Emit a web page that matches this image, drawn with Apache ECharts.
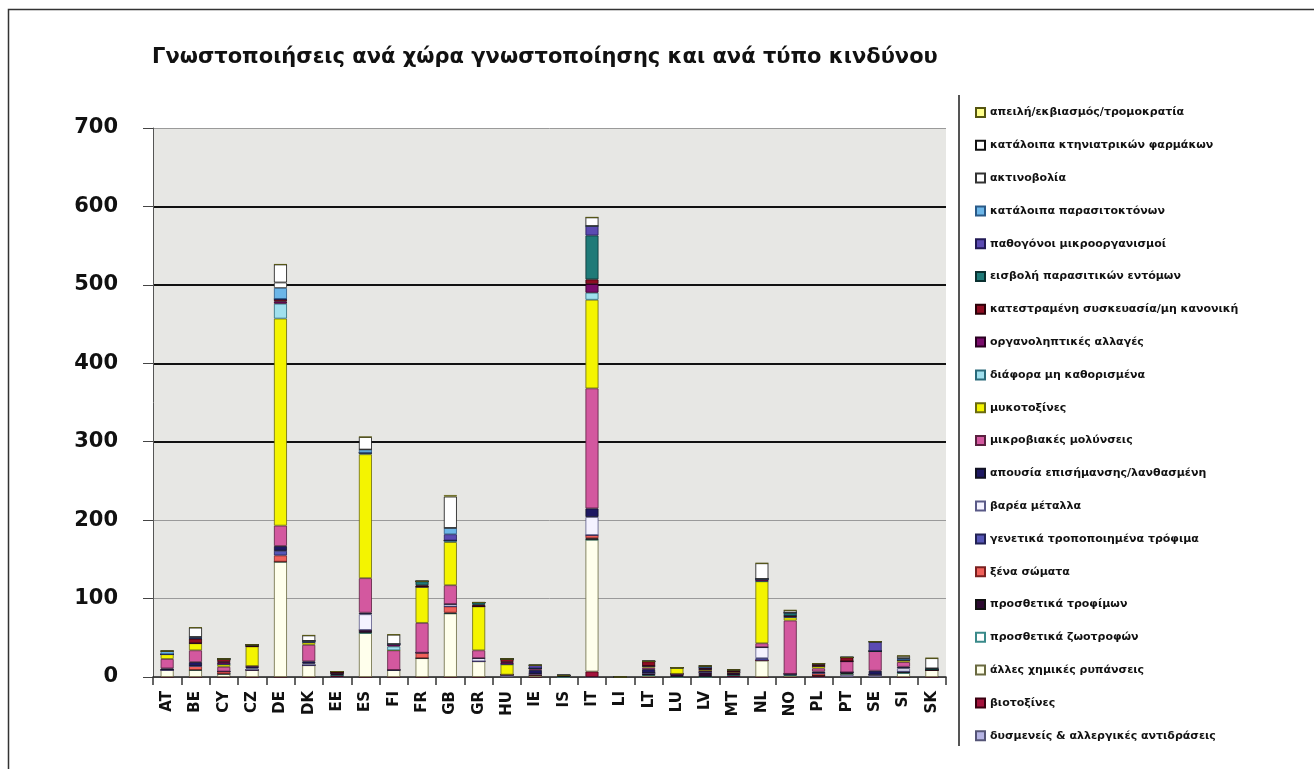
<!DOCTYPE html>
<html>
<head>
<meta charset="utf-8">
<script src="https://cdn.jsdelivr.net/npm/echarts@6/dist/echarts.min.js"></script>
<style>
html,body{margin:0;padding:0;background:#fff;}
#chart{width:1314px;height:769px;}
</style>
</head>
<body>
<div id="chart"></div>
<script>
const titleText = 'Γνωστοποιήσεις ανά χώρα γνωστοποίησης και ανά τύπο κινδύνου';
const countries = ['AT','BE','CY','CZ','DE','DK','EE','ES','FI','FR','GB','GR','HU','IE','IS','IT','LI','LT','LU','LV','MT','NL','NO','PL','PT','SE','SI','SK'];
const yTicks = [0,100,200,300,400,500,600,700];

// series listed bottom of stack -> top of stack
const seriesNames = [
  'δυσμενείς & αλλεργικές αντιδράσεις',
  'βιοτοξίνες',
  'άλλες χημικές ρυπάνσεις',
  'προσθετικά ζωοτροφών',
  'προσθετικά τροφίμων',
  'ξένα σώματα',
  'γενετικά τροποποιημένα τρόφιμα',
  'βαρέα μέταλλα',
  'απουσία επισήμανσης/λανθασμένη',
  'μικροβιακές μολύνσεις',
  'μυκοτοξίνες',
  'διάφορα μη καθορισμένα',
  'οργανοληπτικές αλλαγές',
  'κατεστραμένη συσκευασία/μη κανονική',
  'εισβολή παρασιτικών εντόμων',
  'παθογόνοι μικροοργανισμοί',
  'κατάλοιπα παρασιτοκτόνων',
  'ακτινοβολία',
  'κατάλοιπα κτηνιατρικών φαρμάκων',
  'απειλή/εκβιασμός/τρομοκρατία'
];

//                  AT BE CY CZ  DE DK EE  ES FI FR  GB GR HU IE IS  IT LI LT LU LV MT  NL NO PL PT SE SI SK
const adverse     = [0, 0, 0, 0,  0, 0, 0,  0, 0, 0,  0, 0, 3, 0, 0,  0, 0, 0, 0, 0, 0,  0, 0, 0, 3, 3, 0, 0];
const biotoxins   = [0, 0, 0, 0,  0, 0, 2,  0, 0, 0,  0, 0, 0, 0, 0,  7, 0, 0, 0, 0, 2,  0, 0, 2, 0, 0, 0, 0];
const otherChem   = [9, 9, 4, 9,147,15, 0, 56, 9,24, 81,20, 0, 2, 0,168, 0, 2, 0, 0, 0, 21, 2, 0, 1, 0, 5, 9];
const feedAdd     = [0, 0, 0, 0,  0, 0, 0,  0, 0, 0,  0, 0, 0, 0, 0,  0, 0, 0, 0, 0, 0,  0, 0, 0, 0, 0, 0, 0];
const foodAdd     = [0, 0, 0, 0,  0, 0, 3,  4, 0, 0,  1, 0, 0, 0, 2,  2, 0, 3, 4, 6, 4,  0, 2, 0, 2, 0, 2, 0];
const foreign     = [0, 5, 3, 0,  8, 0, 0,  0, 0, 7,  8, 0, 0, 2, 0,  4, 0, 0, 0, 0, 0,  0, 0, 3, 0, 0, 0, 0];
const gmo         = [0, 0, 0, 0,  6, 0, 0,  0, 0, 0,  0, 0, 0, 0, 0,  0, 0, 0, 0, 0, 0,  3, 0, 0, 0, 0, 0, 0];
const heavyMet    = [0, 0, 0, 2,  0, 2, 0, 20, 0, 0,  3, 4, 0, 0, 0, 23, 0, 0, 0, 0, 0, 14, 0, 0, 0, 0, 4, 0];
const labelling   = [2, 5, 0, 3,  6, 3, 0,  2, 0, 0,  0, 0, 0, 5, 0, 11, 0, 5, 0, 2, 0,  0, 0, 2, 0, 5, 2, 0];
const microbial   = [12,15,6, 0, 26,21, 0, 44,25,38, 24,10, 0, 2, 0,153, 0, 2, 0, 0, 0,  5,68, 4,14,25, 6, 0];
const mycotoxins  = [6, 9, 3,25,264, 3, 0,158, 0,46, 55,56,13, 0, 0,113, 0, 2, 8, 2, 1, 79, 4, 3, 0, 0, 3, 0];
const various     = [0, 0, 0, 0, 19, 0, 0,  2, 5, 0,  2, 0, 0, 0, 0,  9, 0, 0, 0, 0, 0,  0, 0, 0, 0, 0, 0, 0];
const organolept  = [0, 0, 3, 0,  3, 2, 0,  0, 3, 0,  0, 0, 3, 0, 0, 11, 0, 0, 0, 0, 0,  3, 2, 0, 0, 0, 0, 0];
const packaging   = [0, 6, 4, 2,  3, 0, 2,  0, 0, 2,  0, 2, 4, 0, 0,  6, 0, 6, 0, 2, 2,  0, 0, 3, 5, 0, 0, 0];
const insects     = [0, 0, 0, 0,  0, 0, 0,  0, 0, 5,  0, 3, 0, 0, 0, 56, 0, 0, 0, 0, 0,  0, 4, 0, 0, 0, 0, 2];
const pathogens   = [0, 2, 0, 0,  0, 0, 0,  0, 0, 0,  8, 0, 0, 4, 0, 12, 0, 0, 0, 0, 0,  0, 0, 0, 0,12, 0, 0];
const pesticides  = [4, 0, 0, 0, 14, 0, 0,  4, 0, 0,  8, 0, 0, 0, 0,  0, 0, 0, 0, 2, 0,  0, 0, 0, 0, 0, 2, 0];
const radiation   = [0, 0, 0, 0,  7, 0, 0,  0, 0, 0,  0, 0, 0, 0, 0,  0, 0, 0, 0, 0, 0,  0, 0, 0, 0, 0, 0, 0];
const vetResidues = [0,12, 0, 0, 23, 7, 0, 16,12, 0, 40, 0, 0, 0, 0, 11, 0, 0, 0, 0, 0, 20, 3, 0, 0, 0, 3,13];
const threat      = [0, 0, 0, 0,  0, 0, 0,  0, 0, 0,  2, 0, 0, 0, 0,  0, 0, 0, 0, 0, 0,  0, 0, 0, 0, 0, 0, 0];

const seriesValues = [adverse, biotoxins, otherChem, feedAdd, foodAdd, foreign, gmo, heavyMet, labelling, microbial,
  mycotoxins, various, organolept, packaging, insects, pathogens, pesticides, radiation, vetResidues, threat];

const seriesColors = ['#B6B4E4','#A3123C','#FFFFEC','#FFFFFF','#2C0A30','#F0605A','#5656B6','#F4F2FF','#1E1862','#D3589F',
  '#F4F400','#A0E0EE','#7A0C6C','#8E0C22','#1F7A78','#5B4BB2','#6CB6E8','#FFFFFF','#FFFFFF','#FFFF8A'];
const seriesBorders = ['#555577','#3a0010','#6a6a40','#3a8a8a','#111111','#7a2020','#222255','#5a5a88','#111122','#5a2040',
  '#6a6a10','#2a6a7a','#2a0020','#2a0008','#0a3030','#221a55','#2a5a88','#333333','#111111','#555510'];

const chart = echarts.init(document.getElementById('chart'));
const series = seriesNames.map((name, i) => ({
  name: name,
  type: 'bar',
  stack: 'total',
  barWidth: 13,
  data: seriesValues[i],
  itemStyle: { color: seriesColors[i], borderColor: seriesBorders[i], borderWidth: 0.8 },
  emphasis: { disabled: true }
}));

chart.setOption({
  animation: false,
  backgroundColor: '#ffffff',
  title: {
    text: titleText,
    left: 147,
    top: 42,
    textStyle: { fontFamily: 'DejaVu Sans', fontWeight: 'bold', fontSize: 21, color: '#111' }
  },
  legend: {
    orient: 'vertical',
    left: 975,
    top: 106,
    height: 660,
    padding: 0,
    itemWidth: 9,
    itemHeight: 9,
    itemGap: 19.8,
    icon: 'rect',
    data: seriesNames.slice().reverse(),
    textStyle: { fontFamily: 'DejaVu Sans', fontWeight: 'bold', fontSize: 11, color: '#111', lineHeight: 13 },
    selectedMode: false
  },
  grid: {
    left: 153, right: 368, top: 128, bottom: 92,
    show: true, backgroundColor: '#E7E7E4', borderWidth: 0
  },
  xAxis: {
    type: 'category',
    data: countries,
    axisLine: { lineStyle: { color: '#222', width: 1.5 } },
    axisTick: { show: true, length: 8, lineStyle: { color: '#333', width: 1.5 } },
    axisLabel: { rotate: 90, margin: 14, fontFamily: 'DejaVu Sans', fontWeight: 'bold', fontSize: 15, color: '#111' }
  },
  yAxis: [{
    type: 'value',
    min: yTicks[0], max: yTicks[yTicks.length - 1], interval: 100,
    axisLine: { show: true, lineStyle: { color: '#555', width: 1 } },
    axisTick: { show: true, length: 10, lineStyle: { color: '#444' } },
    axisLabel: { margin: 35, fontFamily: 'DejaVu Sans', fontWeight: 'bold', fontSize: 21, color: '#111' },
    splitLine: { show: true, lineStyle: { color: '#9a9a9a', width: 1 } }
  }, {
    type: 'value',
    position: 'left',
    min: yTicks[0], max: yTicks[yTicks.length - 1], interval: 100,
    axisLine: { show: false }, axisTick: { show: false }, axisLabel: { show: false },
    splitLine: { show: true, lineStyle: { color: ['transparent','transparent','transparent','#111','#111','#111','#111','transparent'], width: 2 } }
  }],
  graphic: [
    { type: 'rect', shape: { x: 8.5, y: 9.5, width: 1330, height: 800 }, style: { fill: 'none', stroke: '#333', lineWidth: 1.5 }, silent: true, z: -10 },
    { type: 'line', shape: { x1: 959, y1: 95, x2: 959, y2: 746 }, style: { stroke: '#555', lineWidth: 2 }, silent: true }
  ],
  series: series
});
</script>
</body>
</html>
